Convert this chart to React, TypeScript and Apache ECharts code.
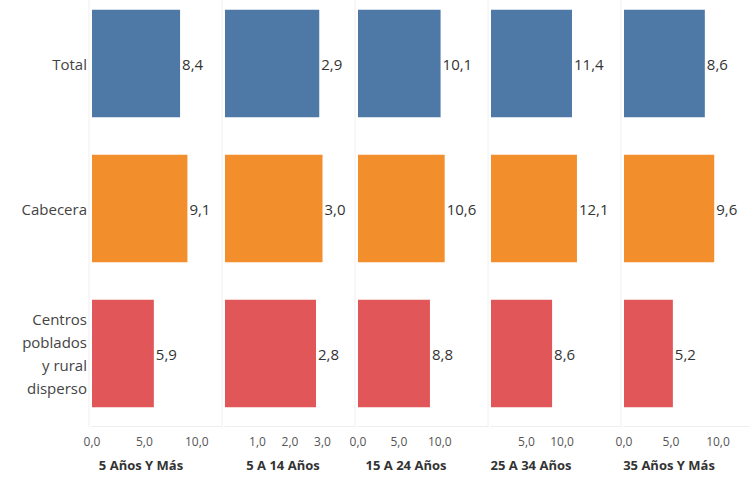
import React, { useEffect, useRef } from "react";
import * as echarts from "echarts";

const categories = ["Total", "Cabecera", "Centros\npoblados\ny rural\ndisperso"];
const groups = ["5 Años Y Más", "5 A 14 Años", "15 A 24 Años", "25 A 34 Años", "35 Años Y Más"];
const totalVals = [8.4, 2.9, 10.1, 11.4, 8.6];
const cabeceraVals = [9.1, 3.0, 10.6, 12.1, 9.6];
const centrosVals = [5.9, 2.8, 8.8, 8.6, 5.2];
const axisMax = [12.4, 4.0, 15.9, 18.3, 13.3];
const tickInterval = [5, 1, 5, 5, 5];
const tickLabels = [[0, 5, 10], [1, 2, 3], [0, 5, 10], [5, 10], [0, 5, 10]];
const colors = ["#4e79a7", "#f28e2b", "#e15759"];

const FONT = "Open Sans";
const fmt = (v: number) => v.toFixed(1).replace(".", ",");
const SHIFT = 9; // the reference is cropped at the top

export default function App() {
  const ref = useRef<HTMLDivElement>(null);
  useEffect(() => {
    if (!ref.current) return;
    const chart = echarts.init(ref.current, null, { renderer: "svg" });
    const panelLeft = (i: number) => 92 + 133 * i;
    const titleX = [141, 283, 406, 531, 669];
    const option: any = {
      animation: false,
      textStyle: { fontFamily: FONT },
      grid: groups.map((_, i) => ({ left: panelLeft(i), width: 130, top: 0, height: 435 })),
      xAxis: groups.map((_, i) => ({
        gridIndex: i,
        type: "value",
        min: 0,
        max: axisMax[i],
        interval: tickInterval[i],
        splitLine: { show: false },
        axisLine: { show: true, lineStyle: { color: "#eeeeee" } },
        axisTick: { show: false },
        axisLabel: {
          formatter: (v: number) => (tickLabels[i].includes(v) ? fmt(v) : ""),
          color: "#555",
          fontSize: 12,
          margin: 9,
          hideOverlap: false,
          showMaxLabel: false,
        },
      })),
      yAxis: groups.map((_, i) => ({
        gridIndex: i,
        type: "category",
        inverse: true,
        data: categories,
        axisLine: { show: false },
        axisTick: { show: false },
        axisLabel: {
          show: i === 0,
          color: "#444",
          fontSize: 15,
          margin: 5,
          lineHeight: 23,
          align: "right",
        },
      })),
      series: groups.map((_, i) => ({
        type: "bar",
        xAxisIndex: i,
        yAxisIndex: i,
        barCategoryGap: "26%",
        data: [totalVals[i], cabeceraVals[i], centrosVals[i]].map((v, k) => ({
          value: v,
          itemStyle: { color: colors[k] },
        })),
        label: {
          show: true,
          position: "right",
          distance: 2,
          formatter: (p: any) => fmt(p.value),
          color: "#333",
          fontSize: 15,
        },
      })),
      graphic: [
        ...groups.map((_, i) => ({
          type: "line",
          shape: { x1: panelLeft(i) - 3, y1: SHIFT, x2: panelLeft(i) - 3, y2: 436 },
          style: { stroke: "#f0f0f0", lineWidth: 1 },
          silent: true,
        })),
        ...groups.map((g, i) => ({
          type: "text",
          x: titleX[i],
          y: 465 + SHIFT,
          style: {
            text: g,
            textAlign: "center",
            textVerticalAlign: "middle",
            fontFamily: FONT,
            fontWeight: "bold",
            fontSize: 13,
            fill: "#333",
          },
        })),
      ],
    };
    chart.setOption(option);
    return () => chart.dispose();
  }, []);
  return (
    <div style={{ position: "fixed", left: 0, top: 0, width: 749, height: 482, overflow: "hidden", background: "#fff" }}>
      <div
        ref={ref}
        style={{ position: "absolute", left: 0, top: -SHIFT, width: 749, height: 482 + SHIFT }}
      />
    </div>
  );
}
